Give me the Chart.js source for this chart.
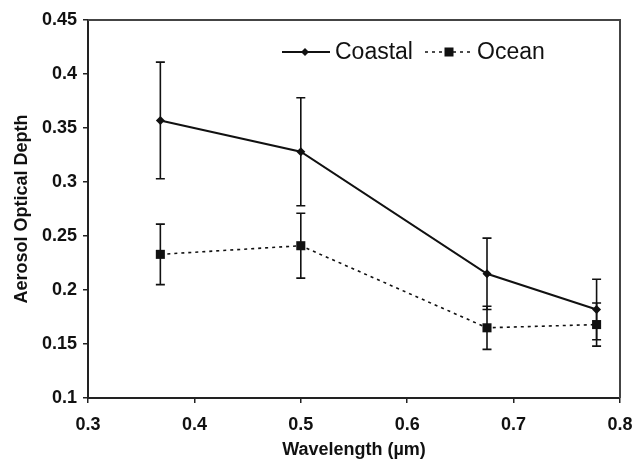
<!DOCTYPE html>
<html>
<head>
<meta charset="utf-8">
<script src="https://cdn.jsdelivr.net/npm/chart.js@4.4.1/dist/chart.umd.min.js"></script>
<style>
  html, body { margin: 0; padding: 0; background: #fff; }
  #wrap { width: 632px; height: 466px; }
</style>
</head>
<body>
<div id="wrap"><canvas id="c" width="632" height="466"></canvas></div>
<script>
// ---- data ----
const wavelengths = [0.368, 0.5, 0.675, 0.778];
const coastal     = [0.357, 0.328, 0.215, 0.182];
const coastalErr  = [0.054, 0.050, 0.033, 0.028];
const ocean       = [0.233, 0.241, 0.165, 0.168];
const oceanErr    = [0.028, 0.030, 0.020, 0.020];
const seriesNames = ['Coastal', 'Ocean'];
const xTickValues = [0.3, 0.4, 0.5, 0.6, 0.7, 0.8];
const xTickLabels = ['0.3', '0.4', '0.5', '0.6', '0.7', '0.8'];
const yTickValues = [0.1, 0.15, 0.2, 0.25, 0.3, 0.35, 0.4, 0.45];
const yTickLabels = ['0.1', '0.15', '0.2', '0.25', '0.3', '0.35', '0.4', '0.45'];
const xTitle = 'Wavelength (\u00b5m)';
const yTitle = 'Aerosol Optical Depth';

const FONT = "'Liberation Sans', Arial, sans-serif";

const errorBars = {
  id: 'errorBars',
  beforeDatasetsDraw(chart) {
    const ctx = chart.ctx;
    const xs = chart.scales.x, ys = chart.scales.y;
    const sets = [[coastal, coastalErr], [ocean, oceanErr]];
    ctx.save();
    ctx.strokeStyle = '#111';
    ctx.lineWidth = 1.6;
    sets.forEach(([vals, errs]) => {
      vals.forEach((v, i) => {
        const px = xs.getPixelForValue(wavelengths[i]);
        const top = ys.getPixelForValue(v + errs[i]);
        const bot = ys.getPixelForValue(v - errs[i]);
        ctx.beginPath();
        ctx.moveTo(px, top); ctx.lineTo(px, bot);
        ctx.moveTo(px - 4.5, top); ctx.lineTo(px + 4.5, top);
        ctx.moveTo(px - 4.5, bot); ctx.lineTo(px + 4.5, bot);
        ctx.stroke();
      });
    });
    ctx.restore();
  }
};

const frameAndLegend = {
  id: 'frameAndLegend',
  afterDraw(chart) {
    const ctx = chart.ctx;
    const a = chart.chartArea;
    ctx.save();
    // top and right frame
    ctx.strokeStyle = '#444';
    ctx.lineWidth = 2;
    ctx.beginPath();
    ctx.moveTo(a.left, a.top); ctx.lineTo(a.right, a.top); ctx.lineTo(a.right, a.bottom);
    ctx.stroke();
    // legend
    const ly = a.top + 32;
    ctx.strokeStyle = '#111';
    ctx.fillStyle = '#111';
    ctx.lineWidth = 2;
    ctx.beginPath();
    ctx.moveTo(282, ly); ctx.lineTo(330, ly);
    ctx.stroke();
    ctx.beginPath();
    ctx.moveTo(305 - 4, ly); ctx.lineTo(305, ly - 4); ctx.lineTo(305 + 4, ly); ctx.lineTo(305, ly + 4);
    ctx.closePath(); ctx.fill();
    ctx.lineWidth = 1.6;
    ctx.setLineDash([3, 4]);
    ctx.beginPath();
    ctx.moveTo(425, ly); ctx.lineTo(472, ly);
    ctx.stroke();
    ctx.setLineDash([]);
    ctx.fillRect(449 - 4.5, ly - 4.5, 9, 9);
    ctx.font = '23px ' + FONT;
    ctx.textBaseline = 'middle';
    ctx.textAlign = 'left';
    ctx.fillText(seriesNames[0], 335, ly + 1);
    ctx.fillText(seriesNames[1], 477, ly + 1);
    ctx.restore();
  }
};

new Chart(document.getElementById('c'), {
  type: 'scatter',
  data: {
    datasets: [
      {
        label: seriesNames[0],
        data: wavelengths.map((x, i) => ({ x, y: coastal[i] })),
        showLine: true,
        borderColor: '#111',
        backgroundColor: '#111',
        borderWidth: 2,
        pointStyle: 'rectRot',
        pointRadius: 4.5,
        pointBorderWidth: 0,
        pointBackgroundColor: '#111'
      },
      {
        label: seriesNames[1],
        data: wavelengths.map((x, i) => ({ x, y: ocean[i] })),
        showLine: true,
        borderColor: '#111',
        backgroundColor: '#111',
        borderWidth: 1.6,
        borderDash: [3, 4],
        pointStyle: 'rect',
        pointRadius: 6.4,
        pointBorderWidth: 0,
        pointBackgroundColor: '#111'
      }
    ]
  },
  options: {
    responsive: false,
    animation: false,
    layout: { padding: { left: 0, right: 12, top: 20, bottom: 0 } },
    plugins: { legend: { display: false }, tooltip: { enabled: false } },
    scales: {
      x: {
        type: 'linear',
        min: 0.3, max: 0.8,
        afterBuildTicks: (s) => { s.ticks = xTickValues.map(v => ({ value: v })); },
        afterFit: (s) => { s.height = 68; s.paddingLeft = 0; s.paddingRight = 0; },
        ticks: {
          callback: (v) => xTickLabels[xTickValues.indexOf(v)] ?? '',
          color: '#111',
          font: { family: FONT, size: 18, weight: 'bold' },
          padding: 11,
          maxRotation: 0
        },
        grid: { display: true, drawOnChartArea: false, drawTicks: true, tickLength: 5, color: '#222', lineWidth: 1.5 },
        border: { display: true, color: '#222', width: 2 },
        title: {
          display: true, text: xTitle, color: '#111',
          font: { family: FONT, size: 18, weight: 'bold' },
          padding: { top: 0, bottom: 5 }
        }
      },
      y: {
        type: 'linear',
        min: 0.1, max: 0.45,
        afterBuildTicks: (s) => { s.ticks = yTickValues.map(v => ({ value: v })); },
        afterFit: (s) => { s.width = 88; s.paddingTop = 0; s.paddingBottom = 0; },
        ticks: {
          callback: (v) => yTickLabels[yTickValues.findIndex(t => Math.abs(t - v) < 1e-9)] ?? '',
          color: '#111',
          font: { family: FONT, size: 18, weight: 'bold' },
          padding: 6
        },
        grid: { display: true, drawOnChartArea: false, drawTicks: true, tickLength: 5, color: '#222', lineWidth: 1.5 },
        border: { display: true, color: '#222', width: 2 },
        title: {
          display: true, text: yTitle, color: '#111',
          font: { family: FONT, size: 18, weight: 'bold' },
          padding: { top: 11, bottom: 0 }
        }
      }
    }
  },
  plugins: [errorBars, frameAndLegend]
});
</script>
</body>
</html>
